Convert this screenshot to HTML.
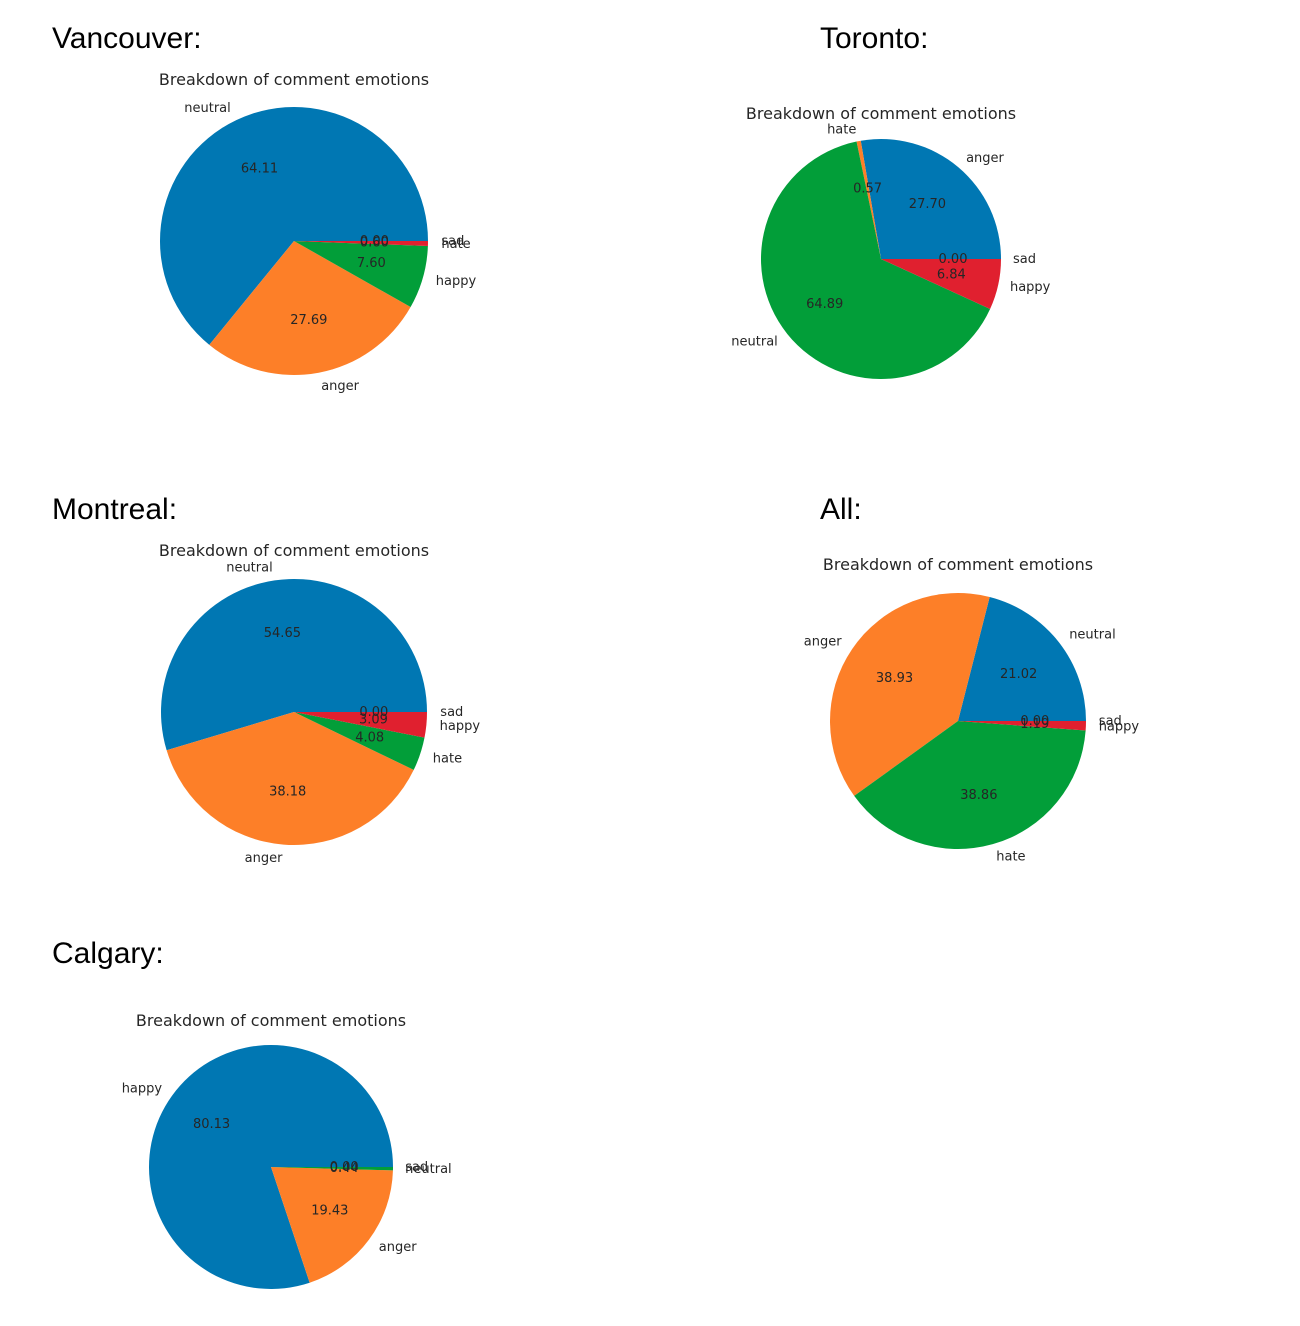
<!DOCTYPE html>
<html><head><meta charset="utf-8">
<style>
html,body{margin:0;padding:0;background:#fff;}
svg{display:block;font-family:"DejaVu Sans","Liberation Sans",sans-serif;}
.h{font-family:"Liberation Sans",Arial,sans-serif;font-size:30px;fill:#000;}
.t{font-size:16px;fill:#262626;}
.l{font-size:13px;fill:#262626;}
</style></head>
<body>
<svg id="chart" width="1300" height="1326" viewBox="0 0 1300 1326">
<text class="h" x="52" y="48">Vancouver:</text>
<text class="h" x="820" y="48">Toronto:</text>
<text class="h" x="52" y="519">Montreal:</text>
<text class="h" x="820" y="519">All:</text>
<text class="h" x="52" y="963">Calgary:</text>
</svg>
<script>
const colors = ["#0077b3","#fd7f28","#029e39","#e0202f","#8c5fb0"];
const vancouverLabels = ["neutral","anger","happy","hate","sad"];
const vancouverValues = [64.11,27.69,7.60,0.60,0.00];
const torontoLabels = ["anger","hate","neutral","happy","sad"];
const torontoValues = [27.70,0.57,64.89,6.84,0.00];
const montrealLabels = ["neutral","anger","hate","happy","sad"];
const montrealValues = [54.65,38.18,4.08,3.09,0.00];
const allLabels = ["neutral","anger","hate","happy","sad"];
const allValues = [21.02,38.93,38.86,1.19,0.00];
const calgaryLabels = ["happy","anger","neutral","sad"];
const calgaryValues = [80.13,19.43,0.44,0.00];

const svg = document.getElementById('chart');
const NS = "http://www.w3.org/2000/svg";

function drawPie(key, labels, values, cx, cy, r, titleY){
  const g = document.createElementNS(NS,'g');
  
  
  svg.appendChild(g);
  const title = document.createElementNS(NS,'text');
  
  
  title.setAttribute('class','t');
  title.setAttribute('x', cx);
  title.setAttribute('y', titleY);
  title.setAttribute('text-anchor','middle');
  title.textContent = 'Breakdown of comment emotions';
  g.appendChild(title);
  const total = values.reduce((a,b)=>a+b,0);
  const texts = [];
  let a0 = 0;
  values.forEach((v,i)=>{
    const span = v/total*360;
    const a1 = a0 + span;
    const rad0 = a0*Math.PI/180, rad1 = a1*Math.PI/180;
    const x0 = cx + r*Math.cos(rad0), y0 = cy - r*Math.sin(rad0);
    const x1 = cx + r*Math.cos(rad1), y1 = cy - r*Math.sin(rad1);
    if (span > 0) {
      const p = document.createElementNS(NS,'path');
      
      
      p.setAttribute('d', `M${cx},${cy} L${x0},${y0} A${r},${r} 0 ${span>180?1:0} 0 ${x1},${y1} Z`);
      p.setAttribute('fill', colors[i % colors.length]);
      g.appendChild(p);
    }
    const mid = (a0 + span/2)*Math.PI/180;
    const c = Math.cos(mid), s = Math.sin(mid);
    const pt = document.createElementNS(NS,'text');
    
    
    pt.setAttribute('class','l');
    pt.setAttribute('x', cx + 0.6*r*c);
    pt.setAttribute('y', cy - 0.6*r*s + 4);
    pt.setAttribute('text-anchor','middle');
    pt.textContent = v.toFixed(2);
    texts.push(pt);
    const lt = document.createElementNS(NS,'text');
    
    
    lt.setAttribute('class','l');
    lt.setAttribute('x', cx + 1.1*r*c);
    lt.setAttribute('y', cy - 1.1*r*s + 4);
    lt.setAttribute('text-anchor', c >= 0 ? 'start' : 'end');
    lt.textContent = labels[i];
    texts.push(lt);
    a0 = a1;
  });
  texts.forEach(t => g.appendChild(t));
}
drawPie('vancouver', vancouverLabels, vancouverValues, 294, 241, 134, 85);
drawPie('toronto', torontoLabels, torontoValues, 881, 259, 120, 119);
drawPie('montreal', montrealLabels, montrealValues, 294, 712, 133, 556);
drawPie('all', allLabels, allValues, 958, 721, 128, 570);
drawPie('calgary', calgaryLabels, calgaryValues, 271, 1167, 122, 1026);
</script>
</body></html>
